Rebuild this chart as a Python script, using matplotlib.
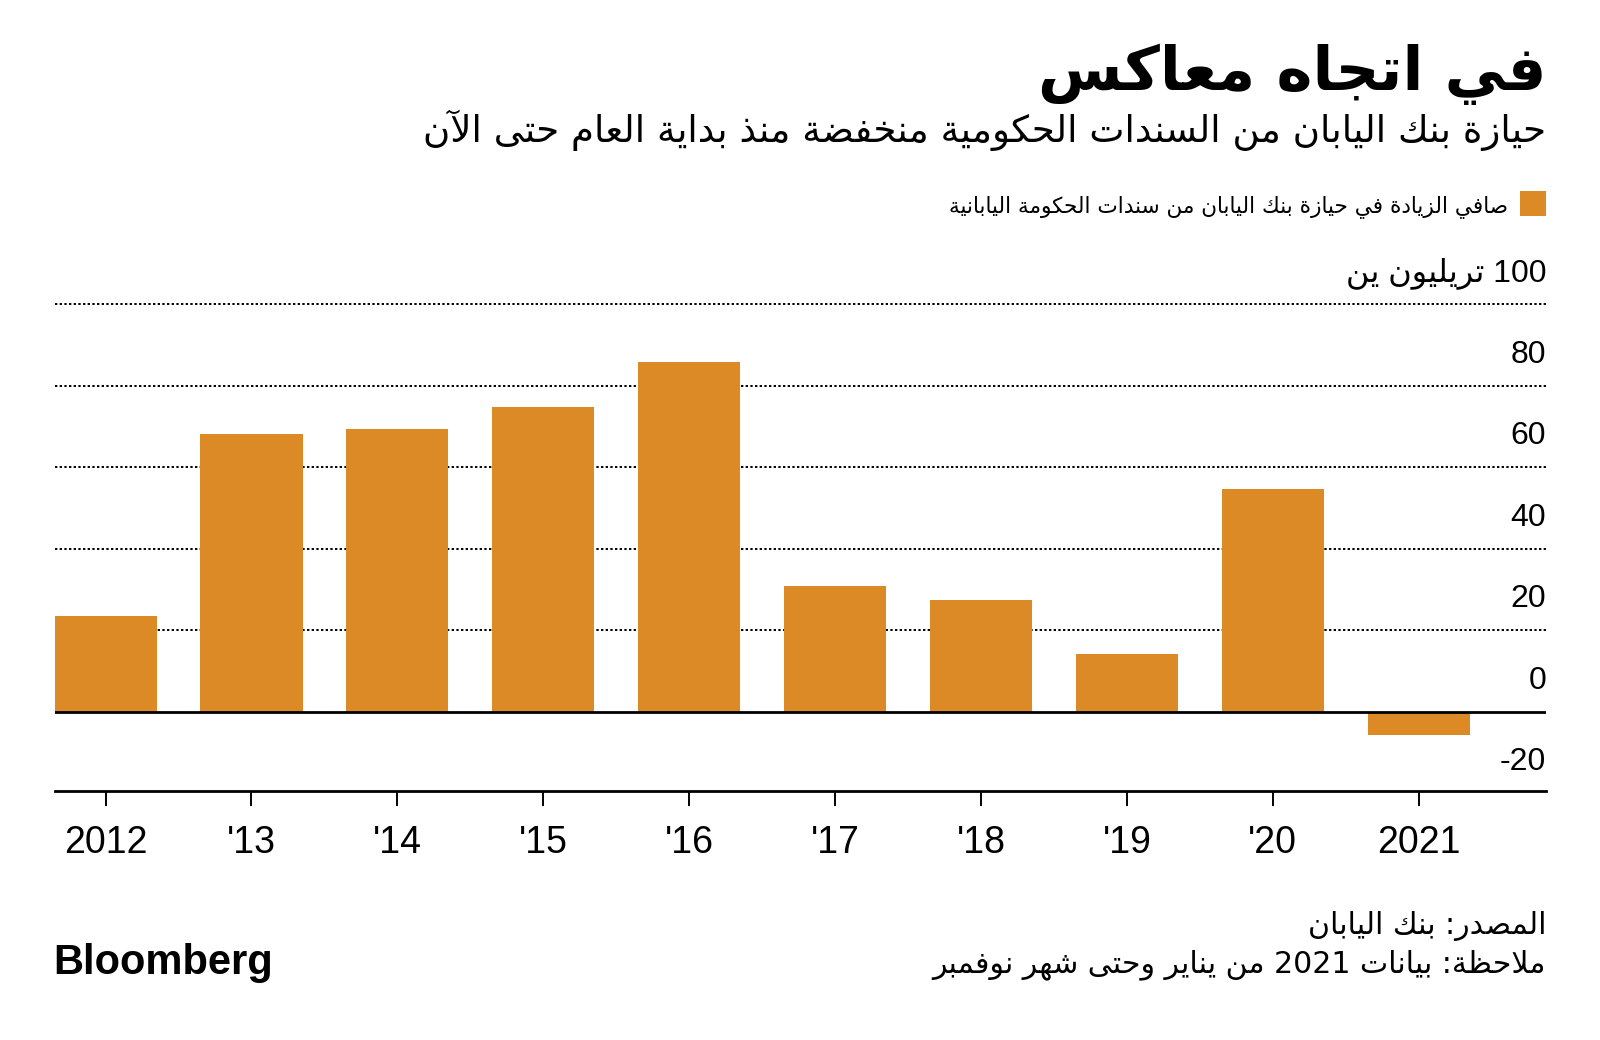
import re
import matplotlib
matplotlib.use('Agg')
import matplotlib.pyplot as plt
from matplotlib import transforms
from matplotlib.patches import Rectangle

# ---------------- data ----------------
years = ['2012', "'13", "'14", "'15", "'16", "'17", "'18", "'19", "'20", '2021']
values = [23.5, 68.2, 69.4, 74.8, 85.9, 30.9, 27.4, 14.2, 54.7, -5.6]
yticks = [-20, 0, 20, 40, 60, 80, 100]
ytick_labels = ['-20', '0', '20', '40', '60', '80', '100 تريليون ين']
grid_values = [20, 40, 60, 80, 100]

title = 'في اتجاه معاكس'
subtitle = 'حيازة بنك اليابان من السندات الحكومية منخفضة منذ بداية العام حتى الآن'
legend_label = 'صافي الزيادة في حيازة بنك اليابان من سندات الحكومة اليابانية'
source = 'المصدر: بنك اليابان'
note = 'ملاحظة: بيانات 2021 من يناير وحتى شهر نوفمبر'
brand = 'Bloomberg'

BAR = '#DB8A25'

# ---------------- Arabic shaping (presentation forms + visual order) ----------------
_AR = {
    0x0621: (0xFE80, 1), 0x0622: (0xFE81, 2), 0x0623: (0xFE83, 2), 0x0624: (0xFE85, 2),
    0x0625: (0xFE87, 2), 0x0626: (0xFE89, 4), 0x0627: (0xFE8D, 2), 0x0628: (0xFE8F, 4),
    0x0629: (0xFE93, 2), 0x062A: (0xFE95, 4), 0x062B: (0xFE99, 4), 0x062C: (0xFE9D, 4),
    0x062D: (0xFEA1, 4), 0x062E: (0xFEA5, 4), 0x062F: (0xFEA9, 2), 0x0630: (0xFEAB, 2),
    0x0631: (0xFEAD, 2), 0x0632: (0xFEAF, 2), 0x0633: (0xFEB1, 4), 0x0634: (0xFEB5, 4),
    0x0635: (0xFEB9, 4), 0x0636: (0xFEBD, 4), 0x0637: (0xFEC1, 4), 0x0638: (0xFEC5, 4),
    0x0639: (0xFEC9, 4), 0x063A: (0xFECD, 4), 0x0641: (0xFED1, 4), 0x0642: (0xFED5, 4),
    0x0643: (0xFED9, 4), 0x0644: (0xFEDD, 4), 0x0645: (0xFEE1, 4), 0x0646: (0xFEE5, 4),
    0x0647: (0xFEE9, 4), 0x0648: (0xFEED, 2), 0x0649: (0xFEEF, 2), 0x064A: (0xFEF1, 4),
}
_LAMALEF = {0x0622: 0xFEF5, 0x0623: 0xFEF7, 0x0625: 0xFEF9, 0x0627: 0xFEFB}


def _shape(text):
    units = []
    i = 0
    while i < len(text):
        c = text[i]
        if ord(c) == 0x0644 and i + 1 < len(text) and ord(text[i + 1]) in _LAMALEF:
            units.append(('LA', _LAMALEF[ord(text[i + 1])]))
            i += 2
        else:
            units.append(('C', c))
            i += 1

    def can_join_prev(u):
        if u[0] == 'LA':
            return True
        o = ord(u[1])
        return o in _AR and _AR[o][1] > 1

    def can_join_next(u):
        if u[0] == 'LA':
            return False
        o = ord(u[1])
        return o in _AR and _AR[o][1] == 4

    out = []
    for k, u in enumerate(units):
        prev = units[k - 1] if k > 0 else None
        nxt = units[k + 1] if k + 1 < len(units) else None
        cp = prev is not None and can_join_next(prev) and can_join_prev(u)
        cn = nxt is not None and can_join_next(u) and can_join_prev(nxt)
        if u[0] == 'LA':
            out.append(chr(u[1] + (1 if cp else 0)))
            continue
        o = ord(u[1])
        if o not in _AR:
            out.append(u[1])
            continue
        base, n = _AR[o]
        if n == 1:
            out.append(chr(base))
        elif n == 2:
            out.append(chr(base + (1 if cp else 0)))
        else:
            if cp and cn:
                out.append(chr(base + 3))
            elif cp:
                out.append(chr(base + 1))
            elif cn:
                out.append(chr(base + 2))
            else:
                out.append(chr(base))
    return ''.join(out)


def rtl(text):
    if not any(0x0600 <= ord(c) <= 0x06FF for c in text):
        return text
    s = _shape(text)
    tokens = re.findall(r'-?[0-9A-Za-z]+(?:[.,][0-9A-Za-z]+)*|.', s)
    return ''.join(reversed(tokens))


# ---------------- figure ----------------
AR_FONT = ['DejaVu Sans']
NUM_FONT = ['Liberation Sans', 'DejaVu Sans']

W, H = 1600, 1040
fig = plt.figure(figsize=(W / 100, H / 100), dpi=100)
fig.patch.set_facecolor('white')


def fx(px):
    return px / W


def fy(py):
    return 1 - py / H


ax_left, ax_right = 54.5, 1546
ax_top, ax_bottom = 300.2, 791
ax = fig.add_axes([fx(ax_left), fy(ax_bottom), fx(ax_right - ax_left), (ax_bottom - ax_top) / H])

x = list(range(len(years)))
ax.bar(x, values, width=0.70, color=BAR, zorder=2)

ax.set_xlim(-0.35, 9.873)
ax.set_ylim(-19.4, 101)

for g in grid_values:
    ax.axhline(g, color='black', lw=1.4, linestyle=(0, (1.2, 1.2)), zorder=1)
ax.axhline(0, color='black', lw=2.0, zorder=3)

for side in ['top', 'right', 'left']:
    ax.spines[side].set_visible(False)
ax.spines['bottom'].set_linewidth(2.0)
ax.spines['bottom'].set_color('black')

ax.set_yticks([])
ax.set_xticks(x)
ax.set_xticklabels(years, fontfamily=NUM_FONT, fontsize=27)
ax.tick_params(axis='x', length=10.8, width=1.4, pad=14, colors='black')

# y labels above gridlines, right aligned
base_tr = transforms.blended_transform_factory(ax.transAxes, ax.transData)
lab_tr = transforms.offset_copy(base_tr, fig=fig, x=0, y=23, units='dots')
for v, lab in zip(yticks, ytick_labels):
    ax.text(1.0, v, rtl(lab), transform=lab_tr, ha='right', va='baseline',
            fontsize=23, family=NUM_FONT, color='black', clip_on=False)

# title & subtitle
fig.text(fx(1546), fy(90), rtl(title), ha='right', va='baseline',
         fontsize=44, fontweight='bold', family=AR_FONT, color='black')
fig.text(fx(1546), fy(142), rtl(subtitle), ha='right', va='baseline',
         fontsize=26.8, family=AR_FONT, color='black')

# legend
fig.patches.append(Rectangle((fx(1520), fy(216)), fx(26), 25 / H,
                             transform=fig.transFigure, facecolor=BAR, edgecolor='none'))
fig.text(fx(1508), fy(212), rtl(legend_label), ha='right', va='baseline',
         fontsize=15.6, family=AR_FONT, color='black')

# footer
fig.text(fx(1546), fy(934), rtl(source), ha='right', va='baseline',
         fontsize=21.6, family=AR_FONT, color='black')
fig.text(fx(1546), fy(972), rtl(note), ha='right', va='baseline',
         fontsize=21.6, family=['DejaVu Sans'], color='black')
fig.text(fx(53), fy(974), brand, ha='left', va='baseline',
         fontsize=30, fontweight='bold', family=NUM_FONT, color='black')

fig.savefig('out.png', dpi=100, facecolor='white')
